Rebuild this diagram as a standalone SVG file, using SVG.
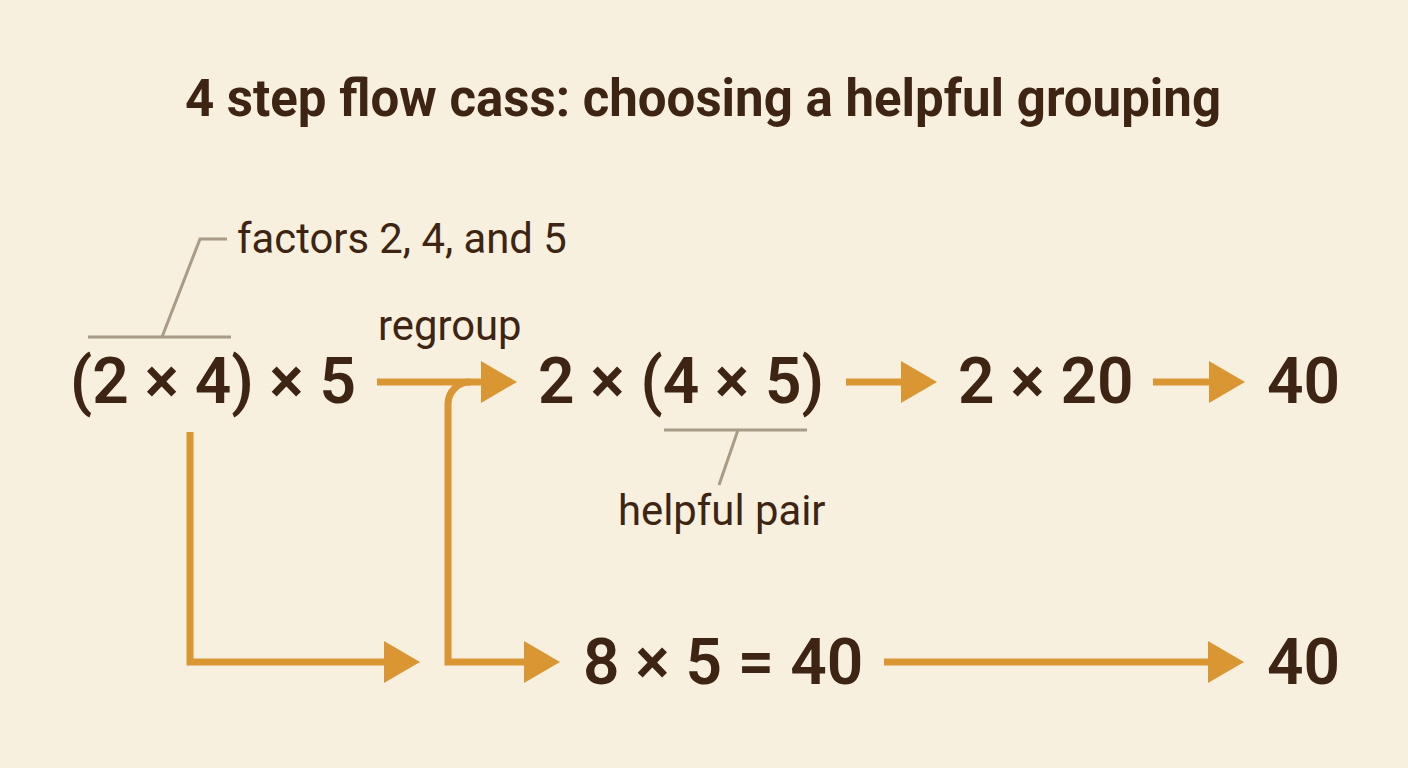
<svg xmlns="http://www.w3.org/2000/svg" width="1408" height="768" viewBox="0 0 1408 768">
<style>
.t{font-family:Roboto,"Liberation Sans",sans-serif;fill:#3e2412}
.title{font-size:51px;font-weight:700}
.m{font-size:64px;font-weight:600}
.lbl{font-size:41.8px;font-weight:400}
.ar{fill:none;stroke:#d99632;stroke-width:7}
.ld{fill:none;stroke:#a89c86;stroke-width:3}
</style>
<defs>
<marker id="ah" markerWidth="36" markerHeight="42" refX="4" refY="21" orient="auto" markerUnits="userSpaceOnUse"><path d="M0,0 L36,21 L0,42 Z" fill="#d99632"/></marker>
</defs>
<rect width="1408" height="768" fill="#f7f0de"/>
<text class="t title" x="703" y="116" text-anchor="middle">4 step flow cass: choosing a helpful grouping</text>
<g id="connectors">
<path class="ar" d="M377,382 H485" marker-end="url(#ah)"/>
<path class="ar" d="M470,382 A22,22 0 0 0 448,404 V662 H528" marker-end="url(#ah)"/>
<path class="ar" d="M190,432 V662 H388" marker-end="url(#ah)"/>
<path class="ar" d="M846,382 H905" marker-end="url(#ah)"/>
<path class="ar" d="M1153,382 H1213" marker-end="url(#ah)"/>
<path class="ar" d="M884,662 H1212" marker-end="url(#ah)"/>
</g>
<g id="n1">
<text class="t m" x="70" y="403">(2 × 4) × 5</text>
<path class="ld" d="M88,337 H231 M162,337 L200,239 H227"/>
<text class="t lbl" x="237" y="253">factors 2, 4, and 5</text>
</g>
<g id="regroup-label"><text class="t lbl" x="378" y="340">regroup</text></g>
<g id="n2">
<text class="t m" x="538" y="403">2 × (4 × 5)</text>
<path class="ld" d="M664,430 H807 M738,430 L719,485"/>
<text class="t lbl" x="618" y="525">helpful pair</text>
</g>
<g id="n3"><text class="t m" x="958" y="403">2 × 20</text></g>
<g id="n4"><text class="t m" x="1267" y="403">40</text></g>
<g id="n5"><text class="t m" x="583" y="684">8 × 5 = 40</text></g>
<g id="n6"><text class="t m" x="1267" y="684">40</text></g>
</svg>
